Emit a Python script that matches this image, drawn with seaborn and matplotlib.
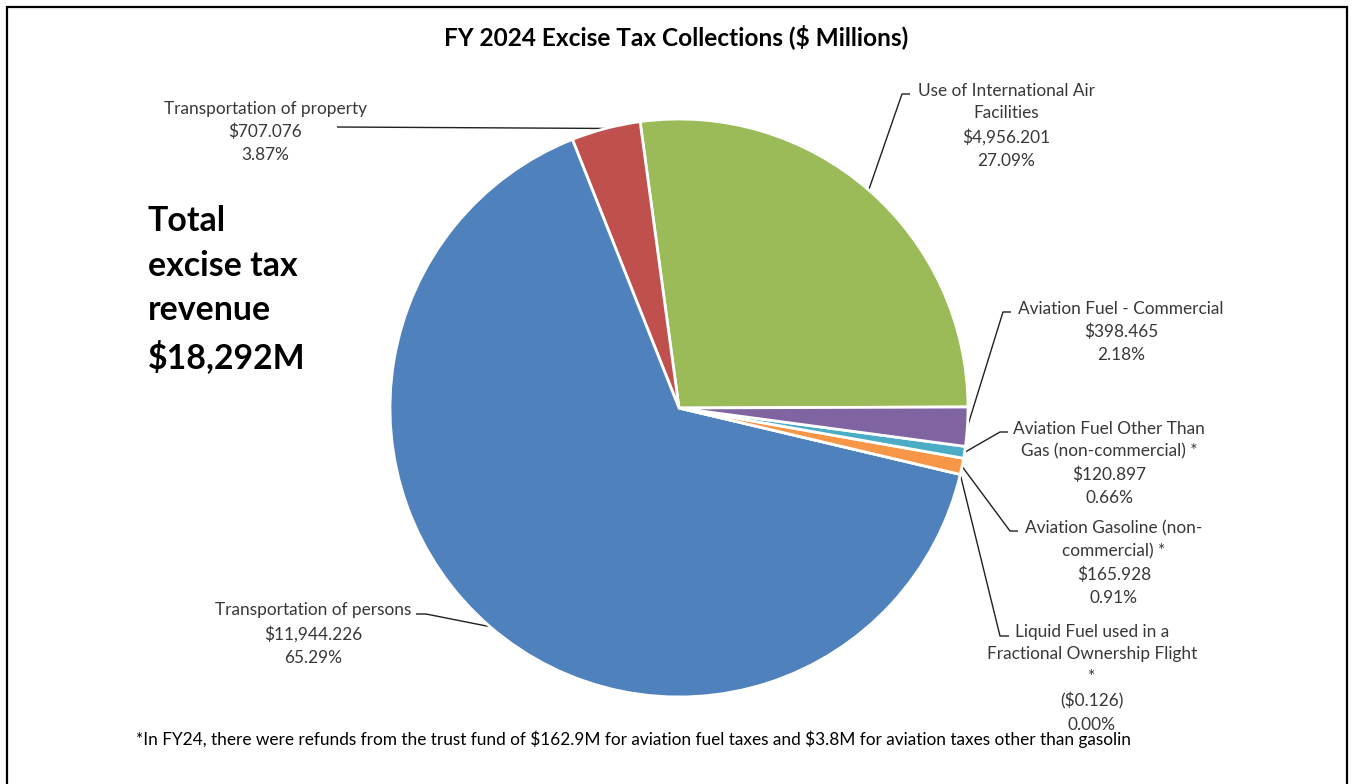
import math
import matplotlib
matplotlib.use("Agg")
import matplotlib.pyplot as plt
import seaborn as sns

# Excise tax collections, FY 2024 ($ millions), in drawing order (counter-clockwise)
categories = [
    "Use of International Air\nFacilities",
    "Transportation of property",
    "Transportation of persons",
    "Liquid Fuel used in a\nFractional Ownership Flight\n*",
    "Aviation Gasoline (non-\ncommercial) *",
    "Aviation Fuel Other Than\nGas (non-commercial) *",
    "Aviation Fuel - Commercial",
]
values = [4956.201, 707.076, 11944.226, -0.126, 165.928, 120.897, 398.465]
colors = ["#9BBB59", "#C0504D", "#4F81BD", "#4BACC6", "#F79646", "#4BACC6", "#8064A2"]

title = "FY 2024 Excise Tax Collections ($ Millions)"
footnote = ("*In FY24, there were refunds from the trust fund of $162.9M for aviation fuel "
            "taxes and $3.8M for aviation taxes other than gasolin")

sns.set_theme(style="white")
plt.rcParams["font.family"] = ["Lato", "DejaVu Sans"]

W, H = 1354, 784
fig = plt.figure(figsize=(W / 100, H / 100), dpi=100)
fig.patch.set_facecolor("white")

# overlay axes in pixel units (y down) for text, frame and leader lines
ax = fig.add_axes([0, 0, 1, 1])
ax.set_xlim(0, W)
ax.set_ylim(H, 0)
ax.axis("off")

# pie axes
cx, cy, r = 679, 408, 289
axp = fig.add_axes([(cx - r) / W, (H - cy - r) / H, 2 * r / W, 2 * r / H])
draw_vals = [max(v, 0.0) for v in values]
wedges, _ = axp.pie(draw_vals, colors=colors, startangle=0.2, counterclock=True,
                    radius=1.0,
                    wedgeprops=dict(edgecolor="white", linewidth=2.0))
axp.set_xlim(-1, 1)
axp.set_ylim(-1, 1)
axp.axis("off")

total = sum(draw_vals)


def fmt_money(v):
    s = f"${abs(v):,.3f}"
    return f"({s})" if v < 0 else s


# label block centres (x, y of first line) and leader elbows, in pixels
label_pos = [
    (1006, 89, [(902, 94), (910, 94)]),
    (265, 107, [(337, 127)]),
    (313, 609, [(426, 614), (416, 614)]),
    (1092, 630, [(1000, 636), (1009, 636)]),
    (1114, 527, [(1010, 531), (1018, 531)]),
    (1109, 427, [(1000, 432), (1008, 432)]),
    (1121, 307, [(1003, 312), (1011, 312)]),
]
txt_color = "#383838"

for w, cat, v, (tx, ty, elbow) in zip(wedges, categories, values, label_pos):
    pct = max(v, 0.0) / total * 100
    text = f"{cat}\n{fmt_money(v)}\n{pct:.2f}%"
    ax.text(tx, ty - 6.5, text, ha="center", va="top", fontsize=12.4,
            color=txt_color, linespacing=1.53, parse_math=False)
    ang = math.radians((w.theta1 + w.theta2) / 2)
    px, py = axp.transData.transform((math.cos(ang), math.sin(ang)))
    sx, sy = ax.transData.inverted().transform((px, py))
    xs = [sx] + [p[0] for p in elbow]
    ys = [sy] + [p[1] for p in elbow]
    ax.plot(xs, ys, color="#202020", lw=1.0, solid_capstyle="butt")

ax.text(676, 37, title, ha="center", va="center", fontsize=17.6, fontweight="bold",
        color="black", parse_math=False)

total_label = f"Total\nexcise tax\nrevenue\n${math.floor(total):,}M"
ax.text(148, 205, total_label, ha="left", va="top", fontsize=24.4, fontweight="bold",
        color="black", linespacing=1.49, parse_math=False)

ax.text(136, 739, footnote, ha="left", va="center", fontsize=12.4, color="black",
        parse_math=False)

# outer frame (open at the bottom edge)
ax.plot([7, 7, 1347, 1347], [H + 5, 7, 7, H + 5], color="black", lw=1.6,
        solid_joinstyle="miter")

fig.savefig("out.png", dpi=100, facecolor="white")
